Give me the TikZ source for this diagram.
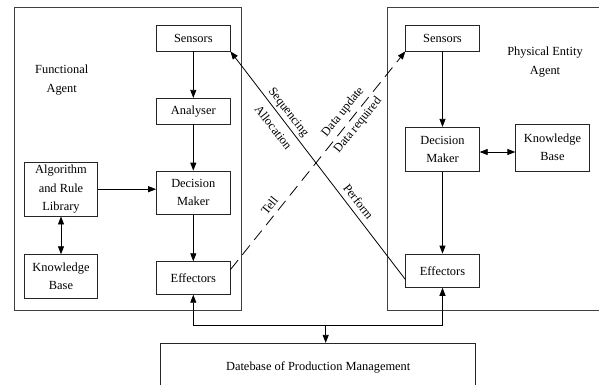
\documentclass[tikz,border=0pt]{standalone}
\usepackage{fontspec}
\setmainfont{Liberation Serif}
\usetikzlibrary{arrows.meta,calc}
\begin{document}
\begin{tikzpicture}[x=1pt,y=-1pt,
  font=\fontsize{12.4}{18.3}\selectfont,
  frame/.style={draw=black!75, line width=0.8pt},
  box/.style={draw=black!85, line width=0.8pt, inner sep=0pt, align=center, minimum width=73.5pt},
  arr/.style={-{Triangle[length=8pt,width=6pt]}, line width=0.8pt},
  both/.style={{Triangle[length=8pt,width=6pt]}-{Triangle[length=8pt,width=6pt]}, line width=0.8pt},
  lbl/.style={inner sep=0pt, align=center}]
\useasboundingbox (0,0) rectangle (599,385);
\begin{scope}
\clip (0,0) rectangle (599,385);
% outer frames
\draw[frame] (14,7.3) rectangle (241.5,310.7);
\draw[frame] (387.7,7.3) rectangle (640,310.7);
% database
\node[box, minimum width=315pt, minimum height=48pt] (db) at (318.2,367.3) {Datebase of Production Management};
\end{scope}

% left agent
\node[lbl] (fa) at (61.7,80) {Functional\\Agent};
\node[box, minimum height=25.3pt] (lsens) at (193.3,38.3) {Sensors};
\node[box, minimum height=25.7pt] (lana) at (193.3,111.2) {Analyser};
\node[box, minimum height=43.3pt] (ldm) at (193.3,192.7) {Decision\\Maker};
\node[box, minimum height=32.6pt] (leff) at (193.3,278) {Effectors};
\node[box, minimum height=53.7pt] (alg) at (61,189.2) {Algorithm\\and Rule\\Library};
\node[box, minimum height=43.6pt] (lkb) at (61,276.5) {Knowledge\\Base};

% right agent
\node[lbl] (pa) at (545,62) {Physical Entity\\Agent};
\node[box, minimum height=25.3pt] (rsens) at (442.5,38.3) {Sensors};
\node[box, minimum height=44.4pt] (rdm) at (442.5,149.5) {Decision\\Maker};
\node[box, minimum height=47pt] (rkb) at (552.5,147.5) {Knowledge\\Base};
\node[box, minimum height=33.3pt] (reff) at (442.5,270.7) {Effectors};

% left arrows
\draw[arr] (lsens) -- (lana);
\draw[arr] (lana) -- (ldm);
\draw[arr] (ldm) -- (leff);
\draw[arr] (alg.east) -- (alg.east -| ldm.west);
\draw[both] (alg) -- (lkb);

% right arrows
\draw[arr] (rsens) -- (rdm);
\draw[both] ([yshift=-2.5pt]rdm.east) -- ([yshift=-2.5pt]rdm.east -| rkb.west);
\draw[arr] (rdm) -- (reff);

% bus to database
\coordinate (bus) at (325.7,325);
\draw[both] (leff.south) -- (leff.south |- bus) -- (reff.south |- bus) -- (reff.south);
\draw[arr] (bus) -- (bus |- db.north);

% diagonals
\draw[arr] ($(reff.south west)+(0,-8.3)$) -- (lsens.south east);
\draw[arr, dash pattern=on 12pt off 7pt] ($(leff.north east)+(0,8.3)$) -- (rsens.south west);

% labels
\node[lbl, rotate=-52] (seq) at (288,112.5) {Sequencing};
\node[lbl, rotate=-52] (alc) at (273.5,127.5) {Allocation};
\node[lbl, rotate=-52] (prf) at (358.5,201.5) {Perform};
\node[lbl, rotate=51] (du) at (343,112) {Data update};
\node[lbl, rotate=51] (dr) at (358,125.5) {Data required};
\node[lbl, rotate=51] (tell) at (269.5,205.5) {Tell};
\end{tikzpicture}
\end{document}
